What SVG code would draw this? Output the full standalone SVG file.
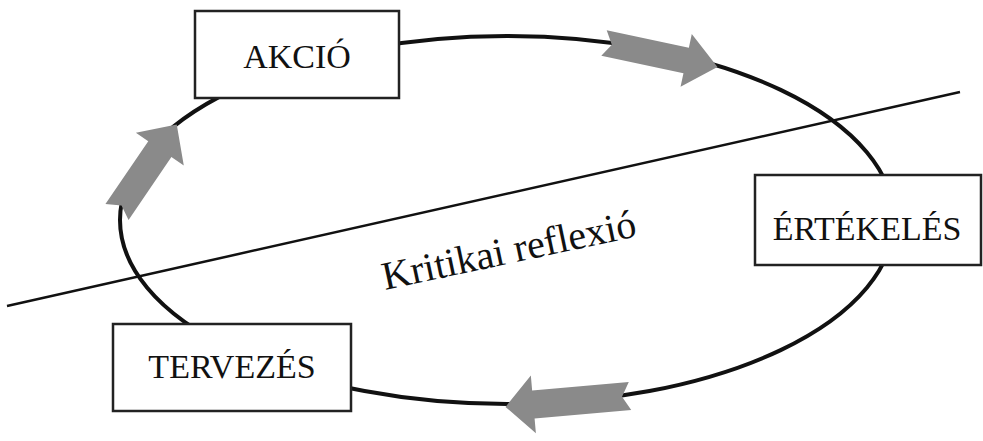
<svg xmlns="http://www.w3.org/2000/svg" width="983" height="441" viewBox="0 0 983 441">
  <style>
    .cycle { fill: none; stroke: #111; stroke-width: 4; }
    .cut { stroke: #111; stroke-width: 2.5; fill: none; }
    .flow { fill: #8a8a8a; stroke: none; }
    .box { fill: #fff; stroke: #222; stroke-width: 2.5; }
    .label { font-family: "Liberation Serif", "Times New Roman", serif; font-size: 34px; fill: #111; text-anchor: middle; }
    .note { font-family: "Liberation Serif", "Times New Roman", serif; font-size: 40px; fill: #111; }
  </style>

  <!-- cycle ring, dividing line and direction arrows -->
  <g id="connectors">
    <ellipse class="cycle" cx="507" cy="220" rx="387" ry="184"/>
    <line class="cut" x1="7" y1="306" x2="960" y2="92"/>
    <path class="flow" transform="translate(604,43) rotate(12)" d="M0,-13 L84,-13 L84,-27 L116,0 L84,27 L84,13 L0,13 L8,0 Z"/>
    <path class="flow" transform="translate(117,212) rotate(-55.7)" d="M0,-14 L76,-14 L76,-29 L106,0 L76,29 L76,14 L0,14 L8,0 Z"/>
    <path class="flow" transform="translate(630,396) rotate(175)" d="M0,-14 L97,-14 L97,-29 L125,0 L97,29 L97,14 L0,14 L8,0 Z"/>
  </g>

  <g id="akcio">
    <rect class="box" x="195" y="11" width="204" height="87"/>
    <text class="label" x="297" y="68">AKCIÓ</text>
  </g>

  <g id="ertekeles">
    <rect class="box" x="755" y="175" width="226" height="90"/>
    <text class="label" x="867" y="240">ÉRTÉKELÉS</text>
  </g>

  <g id="tervezes">
    <rect class="box" x="113" y="324" width="238" height="87"/>
    <text class="label" x="232" y="378">TERVEZÉS</text>
  </g>

  <g id="kritikai-reflexio">
    <text class="note" x="385" y="290" transform="rotate(-12 385 290)">Kritikai reflexió</text>
  </g>
</svg>
